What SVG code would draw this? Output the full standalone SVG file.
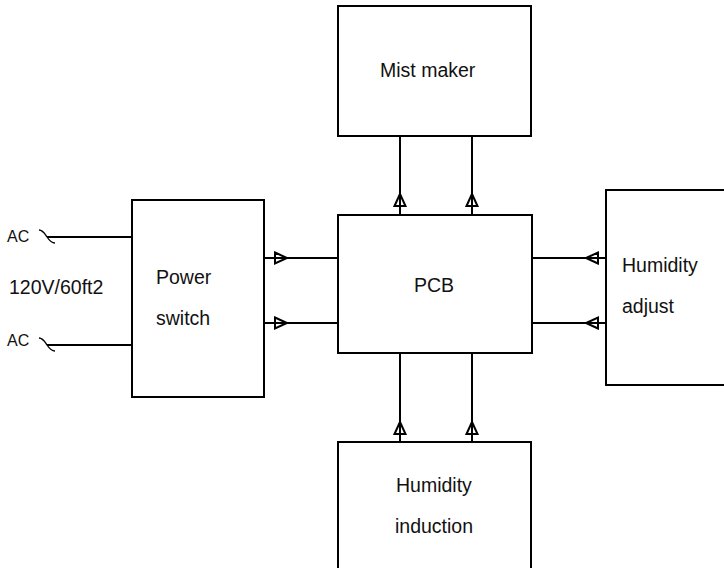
<svg xmlns="http://www.w3.org/2000/svg" width="724" height="568" viewBox="0 0 724 568">
<style>
.box{fill:#fff;stroke:#000;stroke-width:2}
.ln{stroke:#000;stroke-width:2;fill:none}
.tl{stroke:#000;stroke-width:1.3;fill:none}
.ah{fill:none;stroke:#000;stroke-width:2;stroke-linejoin:miter}
.t{font-family:"Liberation Sans",Arial,sans-serif;font-size:19.5px;fill:#111}
.ac{font-family:"Liberation Sans",Arial,sans-serif;font-size:16px;fill:#111}
</style>
<defs>
<path id="arr" class="ah" d="M-12,-5.5 L0,0 L-12,5.5 Z"/>
</defs>
<rect width="724" height="568" fill="#fff"/>
<g id="mist-maker"><rect class="box" x="338" y="6" width="193" height="130"/><text class="t" x="380" y="77">Mist maker</text></g>
<g id="power-switch"><rect class="box" x="132" y="200" width="132" height="197"/><text class="t" x="156" y="284">Power</text><text class="t" x="156" y="325">switch</text></g>
<g id="pcb"><rect class="box" x="338" y="215" width="194" height="138"/><text class="t" x="414" y="292">PCB</text></g>
<g id="humidity-adjust"><rect class="box" x="606" y="190" width="130" height="195"/><text class="t" x="622" y="272">Humidity</text><text class="t" x="622" y="313">adjust</text></g>
<g id="humidity-induction"><rect class="box" x="338" y="442" width="193" height="140"/><text class="t" x="396" y="492">Humidity</text><text class="t" x="395" y="533">induction</text></g>
<g id="ac-input">
<text class="ac" x="7" y="242">AC</text>
<text class="ac" x="7" y="346">AC</text>
<text class="t" x="9" y="294">120V/60ft2</text>
</g>
<g id="connectors">
<path class="tl" d="M39,230 C43,230 45,234 47,237 C49,240 51,243 55,243"/>
<path class="tl" d="M39,338 C43,338 45,342 47,345 C49,348 51,351 55,351"/>
<path class="ln" d="M47,237 H132 M47,345 H132"/>
<path class="ln" d="M264,258 H338 M264,323 H338"/>
<path class="ln" d="M400,136 V215 M472,136 V215"/>
<path class="ln" d="M532,258 H606 M532,323 H606"/>
<path class="ln" d="M400,353 V442 M472,353 V442"/>
<use href="#arr" transform="translate(287,258)"/>
<use href="#arr" transform="translate(287,323)"/>
<use href="#arr" transform="translate(400,194) rotate(-90)"/>
<use href="#arr" transform="translate(472,194) rotate(-90)"/>
<use href="#arr" transform="translate(586,258) rotate(180)"/>
<use href="#arr" transform="translate(586,323) rotate(180)"/>
<use href="#arr" transform="translate(400,422) rotate(-90)"/>
<use href="#arr" transform="translate(472,422) rotate(-90)"/>
</g>
</svg>
